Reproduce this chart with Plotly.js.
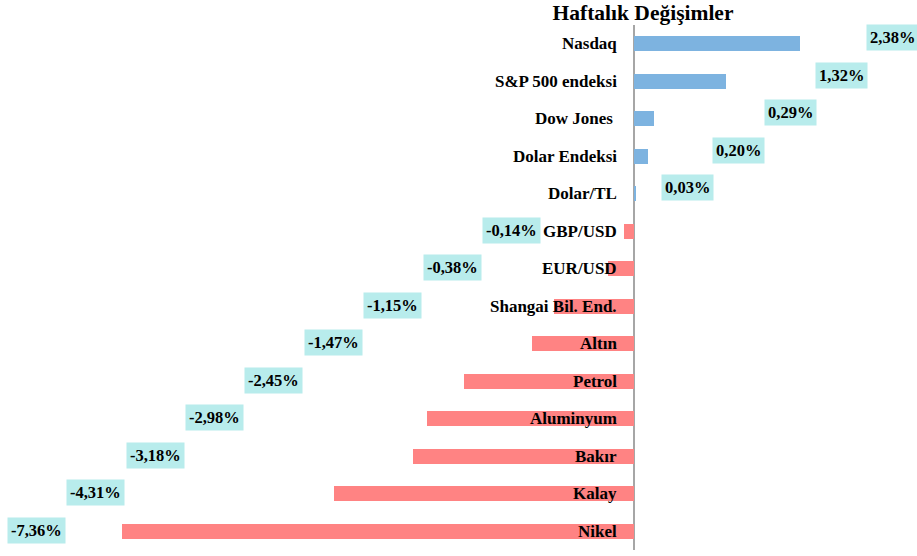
<!DOCTYPE html>
<html>
<head>
<meta charset="utf-8">
<script src="https://cdn.plot.ly/plotly-3.0.1.min.js"></script>
<style>html,body{margin:0;padding:0;background:#fff;}#chart{width:917px;height:556px;}</style>
</head>
<body>
<div id="chart"></div>
<script>
// ---- data ----
const categories = ["Nasdaq", "S&P 500 endeksi", "Dow Jones ", "Dolar Endeksi", "Dolar/TL",
  "GBP/USD", "EUR/USD", "Shangai Bil. End.", "Altın", "Petrol", "Aluminyum", "Bakır", "Kalay", "Nikel"];
const values = [2.38, 1.32, 0.29, 0.20, 0.03, -0.14, -0.38, -1.15, -1.47, -2.45, -2.98, -3.18, -4.31, -7.36];
const titleText = "Haftalık Değişimler";

// ---- styles / layout constants ----
const W = 917, H = 556;
const ZERO_PX = 634;            // pixel position of zero line
const PX_PER_UNIT = 69.57;      // horizontal scale
const xRange = [-ZERO_PX / PX_PER_UNIT, (W - ZERO_PX) / PX_PER_UNIT];
const POS_COLOR = "#7DB3E0", NEG_COLOR = "#FF8383", BOX_COLOR = "#B8ECEC";
const FONT = "'Liberation Serif', 'Times New Roman', serif";

// staircase placement of value boxes (as in the original, manually arranged)
const firstNeg = values.findIndex(v => v < 0);
function labelX(i, v) {
  if (v >= 0) return (232 - 51.2 * i) / PX_PER_UNIT;            // left edge of box
  return (-93 - 59.4 * (i - firstNeg)) / PX_PER_UNIT;            // right edge of box
}

const fmt = v => v.toFixed(2).replace('.', ',') + '%';

const trace = {
  type: 'bar',
  orientation: 'h',
  y: categories,
  x: values,
  width: 0.41,
  marker: { color: values.map(v => v >= 0 ? POS_COLOR : NEG_COLOR), line: { width: 0 } },
  hoverinfo: 'skip'
};

const annotations = [];
categories.forEach((c, i) => {
  annotations.push({
    x: 0, y: c, xref: 'x', yref: 'y', text: '<b>' + c + '</b>',
    showarrow: false, xanchor: 'right', yanchor: 'middle', xshift: -15,
    font: { family: FONT, size: 17, color: '#000' }
  });
  const v = values[i];
  annotations.push({
    x: labelX(i, v), y: c, xref: 'x', yref: 'y', text: '<b>' + fmt(v) + '</b>',
    showarrow: false, xanchor: v >= 0 ? 'left' : 'right', yanchor: 'middle',
    yshift: v >= 0 ? 6 : 1,
    bgcolor: BOX_COLOR, borderpad: 3,
    font: { family: FONT, size: 16.5, color: '#000' }
  });
});

const layout = {
  width: W, height: H,
  margin: { l: 0, r: 0, t: 25, b: 6 },
  paper_bgcolor: '#fff', plot_bgcolor: '#fff',
  showlegend: false,
  title: {
    text: '<b>' + titleText + '</b>',
    x: 643 / W, xanchor: 'center', xref: 'paper',
    y: 1 - 12 / H, yref: 'container', yanchor: 'middle',
    font: { family: FONT, size: 21.5, color: '#000' }
  },
  xaxis: {
    range: xRange, showgrid: false, showticklabels: false, ticks: '',
    zeroline: true, zerolinecolor: '#A6A6A6', zerolinewidth: 1.5, showline: false, fixedrange: true
  },
  yaxis: {
    type: 'category', range: [categories.length - 0.5, -0.5],
    showgrid: false, showticklabels: false, ticks: '', zeroline: false, showline: false, fixedrange: true
  },
  annotations: annotations,
  bargap: 0
};

Plotly.newPlot('chart', [trace], layout, { displayModeBar: false, staticPlot: true });
</script>
</body>
</html>
